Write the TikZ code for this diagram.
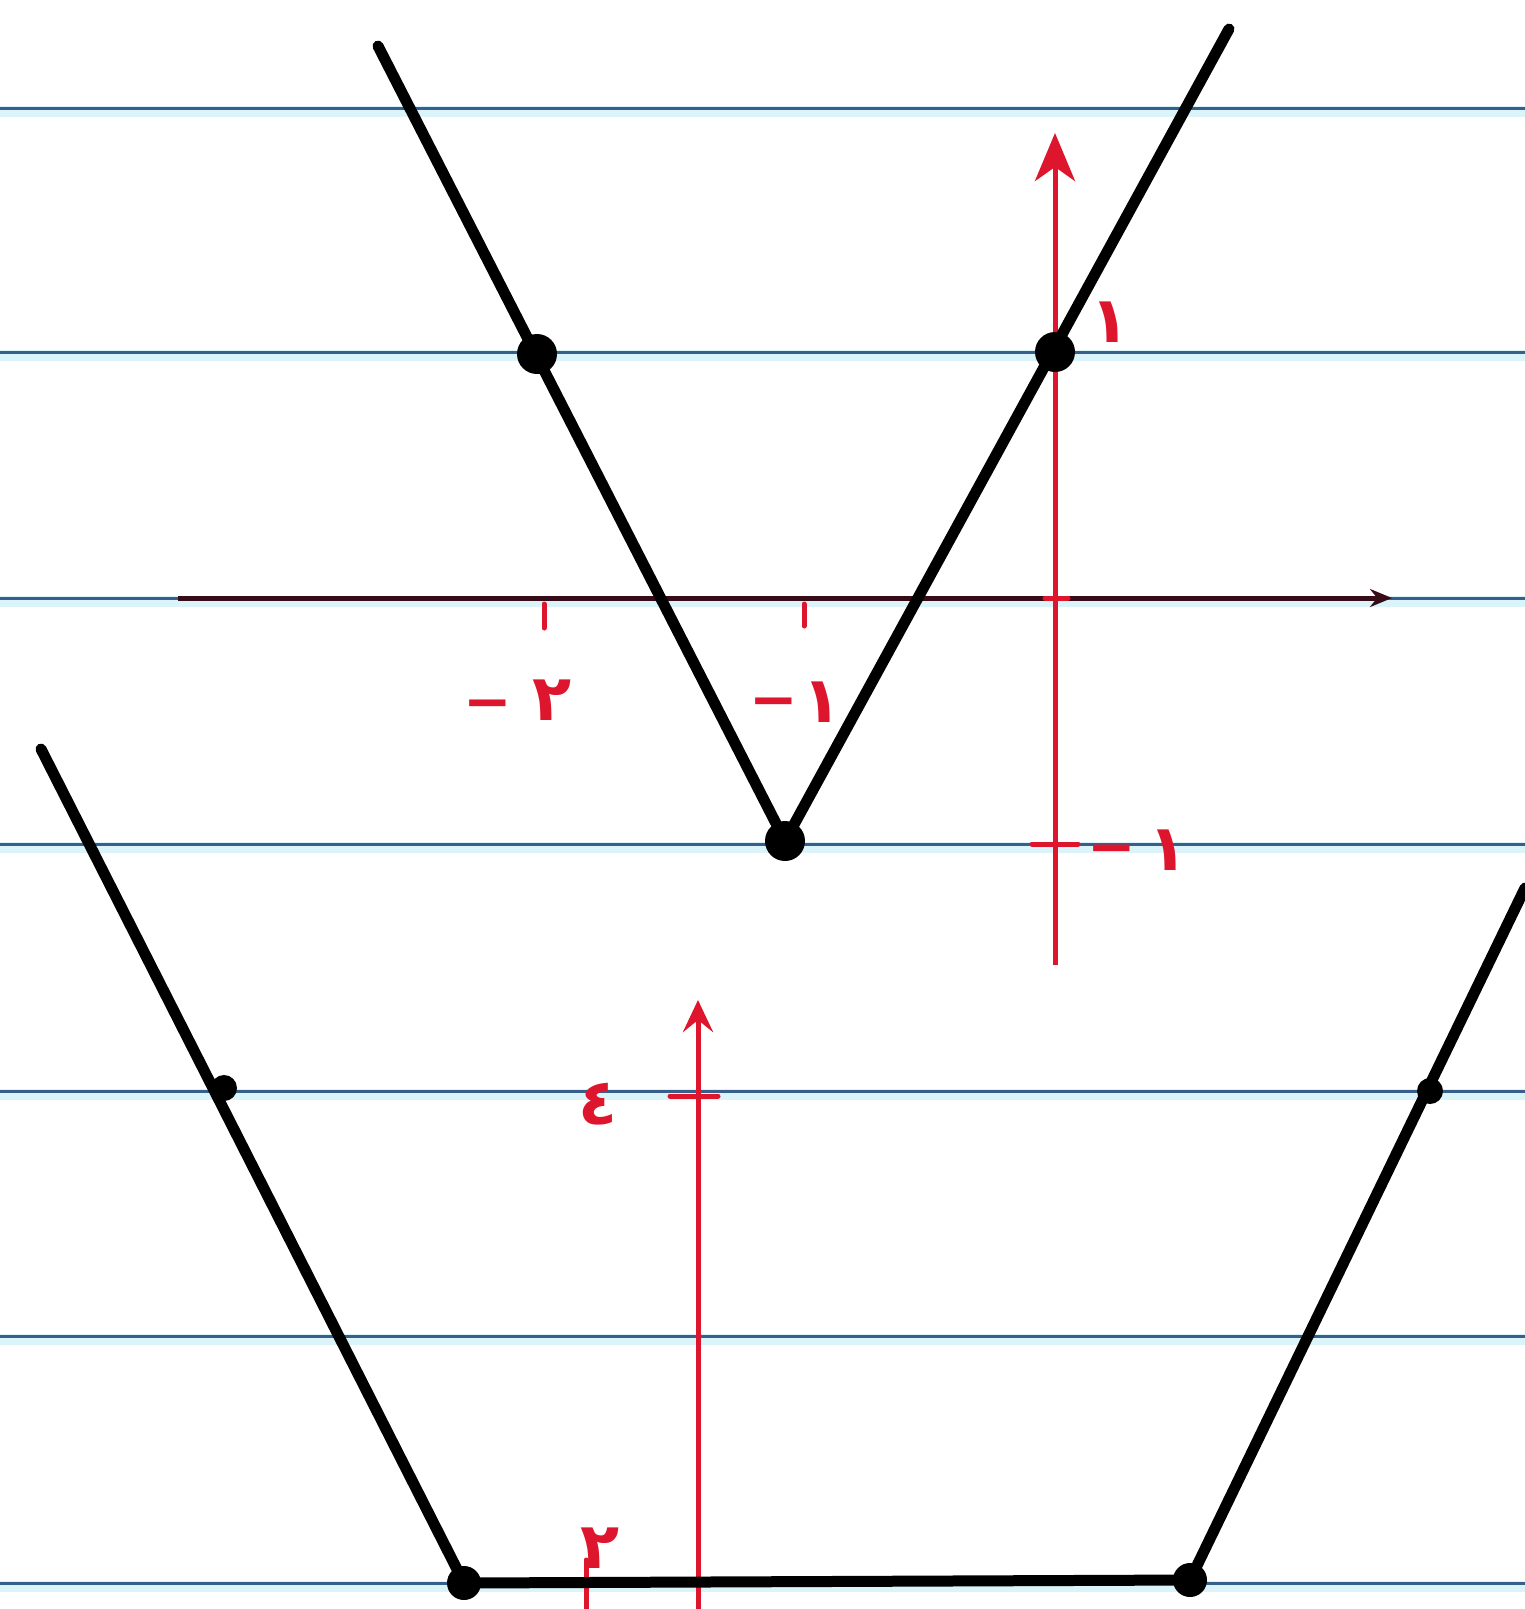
\documentclass[tikz,border=0pt]{standalone}
\usepackage{fontspec}
\newfontfamily\arabicfont[Script=Arabic]{DejaVu Sans}
\usetikzlibrary{arrows.meta}
\definecolor{rulecol}{RGB}{55,95,140}
\definecolor{halocol}{RGB}{218,244,250}
\definecolor{penred}{RGB}{222,22,45}
\definecolor{axdark}{RGB}{55,12,25}
\tikzset{
  rulehalo/.style={halocol, line width=11pt},
  ruleline/.style={rulecol, line width=3pt},
  graphline/.style={black, line width=11pt, line cap=round, line join=round},
  redaxis/.style={penred, line width=5pt},
  redtick/.style={penred, line width=5pt, line cap=round},
  bigdot/.style={circle, fill=black, inner sep=0pt, minimum size=40pt},
  smalldot/.style={circle, fill=black, inner sep=0pt, minimum size=26pt},
  lbl/.style={text=penred, inner sep=0pt, font=\arabicfont\bfseries\fontsize{64}{70}\selectfont},
  minuslbl/.style={text=penred, inner sep=0pt, font=\arabicfont\bfseries\fontsize{58}{64}\selectfont}
}
\begin{document}
\begin{tikzpicture}[x=1pt,y=-1pt]
\useasboundingbox (0,0) rectangle (1525,1609);
\fill[white] (0,0) rectangle (1525,1609);
% ruled lines
\foreach \yy in {108,352,598,844,1091,1336,1583}{
  \draw[rulehalo] (0,\yy+3) -- (1525,\yy+3);
  \draw[ruleline] (0,\yy) -- (1525,\yy);
}
% ---------- top graph ----------
\coordinate (xs) at (178,598);
\coordinate (xe) at (1392,598);
\coordinate (ys) at (1055,965);
\coordinate (ye) at (1055,133);
\draw[axdark, line width=5pt, -{Stealth[length=22pt,width=18pt]}] (xs) -- (xe);
\draw[redaxis, -{Stealth[length=48pt,width=40pt,inset=14pt]}] (ys) -- (ye);
% ticks
\coordinate (tA1) at (544,604); \coordinate (tA2) at (544,628);
\coordinate (tB1) at (804,604); \coordinate (tB2) at (804,626);
\coordinate (tC1) at (1032,844); \coordinate (tC2) at (1078,844);
\coordinate (tD1) at (1045,598); \coordinate (tD2) at (1068,598);
\draw[redtick] (tA1) -- (tA2);
\draw[redtick] (tB1) -- (tB2);
\draw[redtick] (tC1) -- (tC2);
\draw[redtick] (tD1) -- (tD2);
\node[minuslbl] (lm2m) at (488,711) {−};
\node[lbl] (lm2) at (552,700) {٢};
\node[minuslbl] (lm1m) at (774,709) {−};
\node[lbl] (lm1) at (822,702) {١};
\node[lbl] (l1) at (1110,322) {١};
\node[minuslbl] (lym1m) at (1112,856) {−};
\node[lbl] (lym1) at (1168,850) {١};
% V graph
\coordinate (vtl) at (378,46);
\coordinate (vv) at (785,841);
\coordinate (vtr) at (1229,29);
\draw[graphline] (vtl) -- (vv) -- (vtr);
\node[bigdot] (p1) at (537,354) {};
\node[bigdot] (p2) at (1055,352) {};
\node[bigdot] (p3) at (785,841) {};
% ---------- bottom graph ----------
\coordinate (bys) at (698,1609);
\coordinate (bye) at (698,1000);
\draw[redaxis, -{Stealth[length=32pt,width=30pt,inset=12pt]}] (bys) -- (bye);
\coordinate (b4a) at (670,1096); \coordinate (b4b) at (718,1096);
\draw[redtick] (b4a) -- (b4b);
\node[lbl] (l4) at (598,1104) {٤};
\coordinate (b2a) at (586,1560); \coordinate (b2b) at (586,1609);
\draw[redtick] (b2a) -- (b2b);
\node[lbl] (l2) at (600,1548) {٢};
% trapezoid graph
\coordinate (btl) at (41,749);
\coordinate (bbl) at (464,1583);
\coordinate (bbr) at (1190,1580);
\coordinate (btr) at (1525,888);
\draw[graphline] (btl) -- (bbl) -- (bbr) -- (btr);
\node[smalldot] (q1) at (224,1088) {};
\node[smalldot] (q2) at (1430,1091) {};
\node[bigdot, minimum size=34pt] (q3) at (464,1583) {};
\node[bigdot, minimum size=34pt] (q4) at (1190,1580) {};
\end{tikzpicture}
\end{document}
